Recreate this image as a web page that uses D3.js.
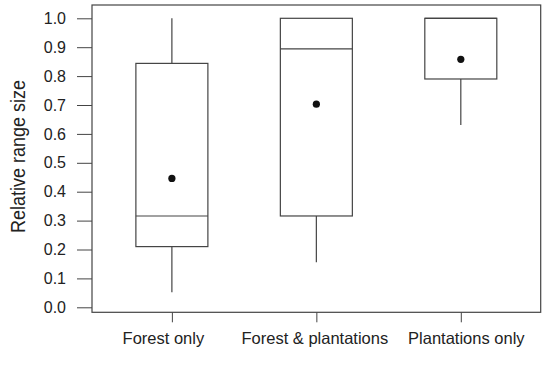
<script src="https://d3js.org/d3.v7.min.js"></script>

<style>
  body { margin: 0; background: #fff; }
  text { font-family: "Liberation Sans", Arial, sans-serif; fill: #222; }
</style>

<div id="container"></div>

<script>
var width = 548, height = 365;
var frame = { left: 92, top: 5, right: 540.7, bottom: 312.3 };

// groups and box statistics
var groups = ["Forest only", "Forest & plantations", "Plantations only"];
var whiskerLow = [0.052, 0.156, 0.631];
var q1 = [0.21, 0.316, 0.79];
var median = [0.316, 0.894, 1.0];
var q3 = [0.844, 1.0, 1.0];
var whiskerHigh = [1.0, 1.0, 1.0];
var mean = [0.446, 0.703, 0.858];
var yTicks = [0, 0.1, 0.2, 0.3, 0.4, 0.5, 0.6, 0.7, 0.8, 0.9, 1.0];

var svg = d3.select("#container").append("svg")
  .attr("width", width)
  .attr("height", height);

var x = d3.scalePoint()
  .domain(groups)
  .range([frame.left, frame.right])
  .padding(0.553);

var y = d3.scaleLinear()
  .domain([0, 1])
  .range([307.3, 18.3]);

var boxW = 72;
var stroke = "#444";

// y axis
var yAxis = svg.append("g")
  .attr("transform", "translate(" + frame.left + ",0)")
  .call(d3.axisLeft(y).tickValues(yTicks).tickFormat(d3.format(".1f")).tickSize(15).tickPadding(11));
yAxis.select(".domain").remove();
yAxis.selectAll("line").attr("stroke", stroke);
yAxis.selectAll("text").style("font-size", "16px").attr("fill", "#222");

// x axis (labels sit a little off-centre in the original)
var labelShift = [-9, -2, 5];
var xAxis = svg.append("g")
  .attr("transform", "translate(0," + frame.bottom + ")")
  .call(d3.axisBottom(x).tickSize(10).tickPadding(10));
xAxis.select(".domain").remove();
xAxis.selectAll("line").attr("stroke", stroke);
xAxis.selectAll("text")
  .attr("x", function (d, i) { return labelShift[i]; })
  .style("font-size", "16.5px").attr("fill", "#222");

// frame
svg.append("rect")
  .attr("x", frame.left)
  .attr("y", frame.top)
  .attr("width", frame.right - frame.left)
  .attr("height", frame.bottom - frame.top)
  .attr("fill", "none")
  .attr("stroke", stroke)
  .attr("stroke-width", 1.2);

// y title (narrow font in the original, so squeeze it)
svg.append("text")
  .attr("transform", "translate(24.5,156.5) rotate(-90)")
  .style("text-anchor", "middle")
  .style("font-size", "20px")
  .attr("textLength", 153)
  .attr("lengthAdjust", "spacingAndGlyphs")
  .text("Relative range size");

var idx = d3.range(groups.length);
var plot = svg.append("g").attr("stroke", stroke).attr("stroke-width", 1.2);

// whiskers
plot.selectAll(".wlow").data(idx).enter().append("line")
  .attr("x1", function (i) { return x(groups[i]); })
  .attr("x2", function (i) { return x(groups[i]); })
  .attr("y1", function (i) { return y(q1[i]); })
  .attr("y2", function (i) { return y(whiskerLow[i]); });
plot.selectAll(".whigh").data(idx).enter().append("line")
  .attr("x1", function (i) { return x(groups[i]); })
  .attr("x2", function (i) { return x(groups[i]); })
  .attr("y1", function (i) { return y(q3[i]); })
  .attr("y2", function (i) { return y(whiskerHigh[i]); });

// boxes
plot.selectAll("rect").data(idx).enter().append("rect")
  .attr("x", function (i) { return x(groups[i]) - boxW / 2; })
  .attr("y", function (i) { return y(q3[i]); })
  .attr("width", boxW)
  .attr("height", function (i) { return y(q1[i]) - y(q3[i]); })
  .attr("fill", "white");

// medians
plot.selectAll(".med").data(idx).enter().append("line")
  .attr("x1", function (i) { return x(groups[i]) - boxW / 2; })
  .attr("x2", function (i) { return x(groups[i]) + boxW / 2; })
  .attr("y1", function (i) { return y(median[i]); })
  .attr("y2", function (i) { return y(median[i]); });

// means
svg.append("g").selectAll("circle").data(idx).enter().append("circle")
  .attr("cx", function (i) { return x(groups[i]); })
  .attr("cy", function (i) { return y(mean[i]); })
  .attr("r", 3.6)
  .attr("fill", "#111");
</script>
